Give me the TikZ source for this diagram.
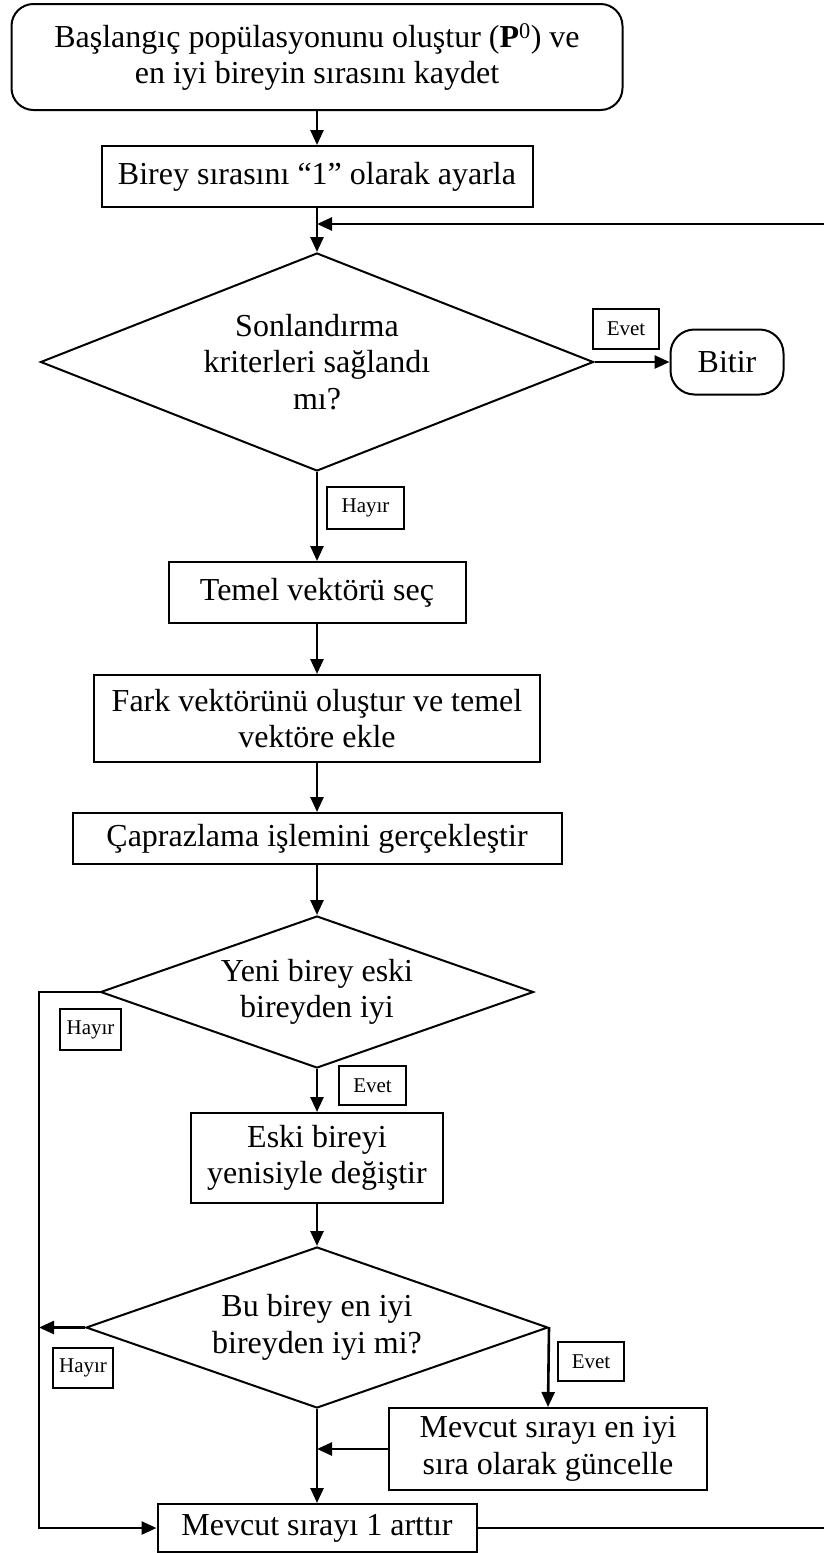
\documentclass[tikz,border=0pt]{standalone}
\usepackage{fontspec}
\setmainfont{Liberation Serif}
\usetikzlibrary{arrows.meta,shapes.geometric}
\begin{document}
\begin{tikzpicture}[x=1pt,y=-1pt,
  every node/.style={font=\fontsize{32}{36.5}\selectfont, align=center, inner sep=0pt},
  proc/.style={draw, line width=2pt, rectangle},
  term/.style={draw, line width=2pt, rectangle, rounded corners=#1},
  dec/.style={draw, line width=2pt, diamond, aspect=#1},
  lab/.style={draw, line width=1.6pt, font=\fontsize{21}{24}\selectfont},
  wire/.style={line width=2.6pt},
  conn/.style={line width=2.6pt, -{Triangle[length=15pt,width=13pt]}}]

\fill[white] (0,0) rectangle (824,1553);
\useasboundingbox (0,0) rectangle (824,1553);

% main column
\node[term=22pt, minimum width=611pt, minimum height=106pt] (start) at (317,57)
  {Başlangıç popülasyonunu oluştur (\textbf{P}\textsuperscript{0}) ve\\en iyi bireyin sırasını kaydet};
\node[proc, minimum width=431pt, minimum height=61pt] (set1) at (317,176.5)
  {Birey sırasını “1” olarak ayarla};
\node[dec=2.54, minimum width=553pt, minimum height=218pt] (d1) at (317,362)
  {Sonlandırma\\kriterleri sağlandı\\mı?};
\node[term=24pt, minimum width=113pt, minimum height=65pt] (bitir) at (727,362) {Bitir};
\node[proc, minimum width=297pt, minimum height=61pt] (temel) at (317,592.5)
  {Temel vektörü seç};
\node[proc, minimum width=446pt, minimum height=87pt] (fark) at (317,718.5)
  {Fark vektörünü oluştur ve temel\\vektöre ekle};
\node[proc, minimum width=489pt, minimum height=51pt] (capr) at (317,838.5)
  {Çaprazlama işlemini gerçekleştir};
\node[dec=2.85, minimum width=433pt, minimum height=152pt] (d2) at (317,992)
  {Yeni birey eski\\bireyden iyi};
\node[proc, minimum width=252pt, minimum height=90pt] (eski) at (317,1158)
  {Eski bireyi\\yenisiyle değiştir};
\node[dec=2.87, minimum width=462pt, minimum height=161pt] (d3) at (317,1327.5)
  {Bu birey en iyi\\bireyden iyi mi?};
\node[proc, minimum width=318pt, minimum height=82pt] (best) at (548,1449)
  {Mevcut sırayı en iyi\\sıra olarak güncelle};
\node[proc, minimum width=319pt, minimum height=48pt] (mev1) at (317,1528)
  {Mevcut sırayı 1 arttır};

% branch labels
\node[lab, minimum width=66pt, minimum height=40pt] (e1) at (626,329) {Evet};
\node[lab, minimum width=77pt, minimum height=42pt] (h1) at (365.5,508) {Hayır};
\node[lab, minimum width=61pt, minimum height=41pt] (h2) at (90.5,1029.5) {Hayır};
\node[lab, minimum width=67pt, minimum height=39pt] (e2) at (372.5,1085.5) {Evet};
\node[lab, minimum width=60pt, minimum height=40pt] (h3) at (83,1368) {Hayır};
\node[lab, minimum width=66pt, minimum height=39pt] (e3) at (591,1361.5) {Evet};

% helper points
\coordinate (join) at (317,224);
\coordinate (rt) at (824,224);
\coordinate (rb) at (824,1528);
\coordinate (lft) at (39,0);

% connectors
\draw[conn] (start.south) -- (set1.north);
\draw[conn] (set1.south) -- (d1.north);
\draw[conn] (rt) -- (join);
\draw[conn] (d1.east) -- (bitir.west);
\draw[conn] (d1.south) -- (temel.north);
\draw[conn] (temel.south) -- (fark.north);
\draw[conn] (fark.south) -- (capr.north);
\draw[conn] (capr.south) -- (d2.north);
\draw[conn] (d2.west) -- (d2.west -| lft) |- (mev1.west);
\draw[conn] (d2.south) -- (eski.north);
\draw[conn] (eski.south) -- (d3.north);
\draw[conn] (d3.west) -- (d3.west -| lft);
\draw[conn] (d3.east) -- (best.north);
\draw[conn] (d3.south) -- (mev1.north);
\draw[conn] (best.west) -- (best.west -| mev1.north);
\draw[wire] (mev1.east) -- (rb);
\end{tikzpicture}
\end{document}
